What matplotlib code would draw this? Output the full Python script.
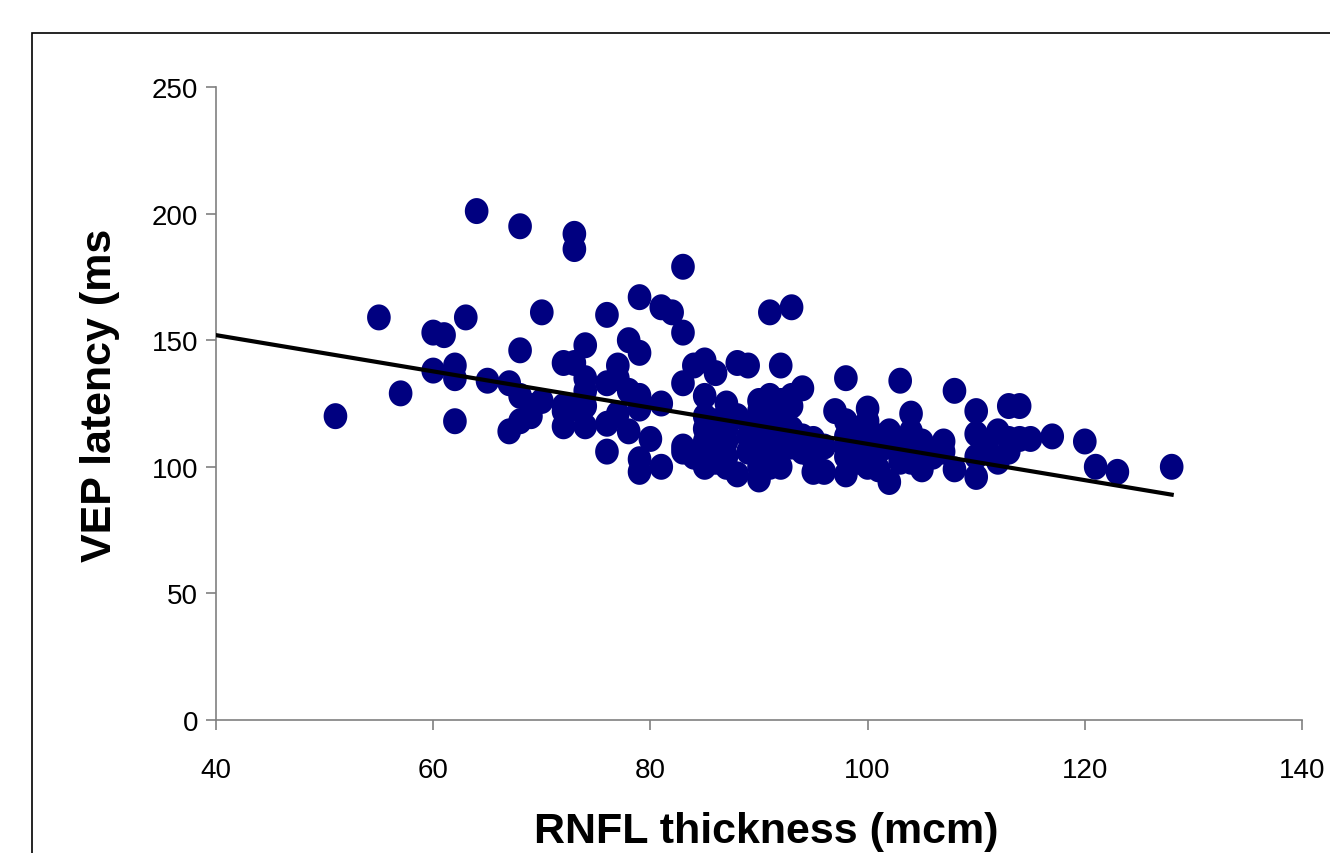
import matplotlib.pyplot as plt
from matplotlib.patches import Rectangle
from matplotlib.path import Path
import numpy as np

# RNFL thickness (x) and VEP latency (y)
columns = {
    51: [120], 55: [159], 57: [129], 60: [153, 138], 61: [152],
    62: [140, 135, 118], 63: [159], 64: [201], 65: [134], 67: [133, 114],
    68: [195, 146, 118, 128], 69: [124, 120], 70: [161, 126],
    72: [141, 124, 116, 122], 73: [192, 186, 141, 123],
    74: [148, 135, 124, 116, 130], 76: [160, 133, 117, 106],
    77: [140, 135, 121], 78: [150, 130, 114],
    79: [167, 145, 128, 123, 103, 98], 80: [111], 81: [163, 125, 100],
    82: [161], 83: [179, 153, 133, 108, 106], 84: [140, 104],
    85: [142, 128, 120, 115, 110, 105, 100],
    86: [137, 118, 112, 108, 102],
    87: [125, 120, 115, 110, 104, 100], 88: [141, 120, 97],
    89: [140, 112, 106],
    90: [126, 122, 118, 114, 110, 105, 95, 100],
    91: [161, 128, 124, 120, 116, 112, 108, 104, 100],
    92: [140, 126, 122, 118, 114, 110, 106, 100],
    93: [163, 128, 124, 115, 108], 94: [131, 112, 106],
    95: [111, 103, 98], 96: [108, 98], 97: [122],
    98: [135, 118, 112, 108, 104, 97], 99: [115, 110, 102],
    100: [123, 118, 110, 104, 100], 101: [112, 106, 99],
    102: [114, 108, 94], 103: [134, 110, 102],
    104: [121, 114, 108, 102], 105: [110, 99], 106: [104],
    107: [110, 106], 108: [130, 99], 110: [122, 113, 104, 96],
    111: [108], 112: [114, 102], 113: [124, 111, 106], 114: [124, 111],
    115: [111], 117: [112], 120: [110], 121: [100], 123: [98], 128: [100],
}
rnfl = []
vep = []
for k, vals in columns.items():
    for v in vals:
        rnfl.append(k)
        vep.append(v)

# trend line ends
trend_x = [40, 128]
trend_y = [152, 89]

x_ticks = [40, 60, 80, 100, 120, 140]
y_ticks = [0, 50, 100, 150, 200, 250]

plt.rcParams['font.family'] = ['Liberation Sans', 'DejaVu Sans']

# slightly tall ellipse, like the original markers
t = np.linspace(0, 2 * np.pi, 60)
ellipse = Path(np.column_stack([0.91 * np.cos(t), np.sin(t)]), closed=True)

fig = plt.figure(figsize=(13.3, 8.54), dpi=100)
ax = fig.add_axes([216 / 1330, 133 / 854, 1086 / 1330, 633 / 854])

ax.scatter(rnfl, vep, s=350, marker=ellipse, color='#000080', edgecolors='none',
           zorder=2, clip_on=False)
ax.plot(trend_x, trend_y, color='black', linewidth=3, zorder=3)

ax.set_xlim(40, 140)
ax.set_ylim(0, 250)
ax.set_xticks(x_ticks)
ax.set_yticks(y_ticks)

for side in ['top', 'right']:
    ax.spines[side].set_visible(False)
for side in ['left', 'bottom']:
    ax.spines[side].set_color('#808080')
    ax.spines[side].set_linewidth(1.2)
ax.tick_params(axis='both', direction='out', length=7, width=1.2, color='#808080',
               labelsize=20)
ax.tick_params(axis='x', pad=20)
ax.tick_params(axis='y', pad=6)

fig.text(766 / 1330, 1 - 832 / 854, 'RNFL thickness (mcm)', ha='center', va='center',
         fontsize=31, fontweight='bold')
fig.text(100 / 1330, 1 - 395 / 854, 'VEP latency (ms', ha='center', va='center',
         fontsize=31, fontweight='bold', rotation=90)

# outer frame, cut off at right and bottom like the original
fig.patches.append(Rectangle((32 / 1330, -0.1), 1.2, 1 - 34 / 854 + 0.1,
                             transform=fig.transFigure, fill=False,
                             edgecolor='black', linewidth=1.2))

fig.savefig('out.png', dpi=100)
